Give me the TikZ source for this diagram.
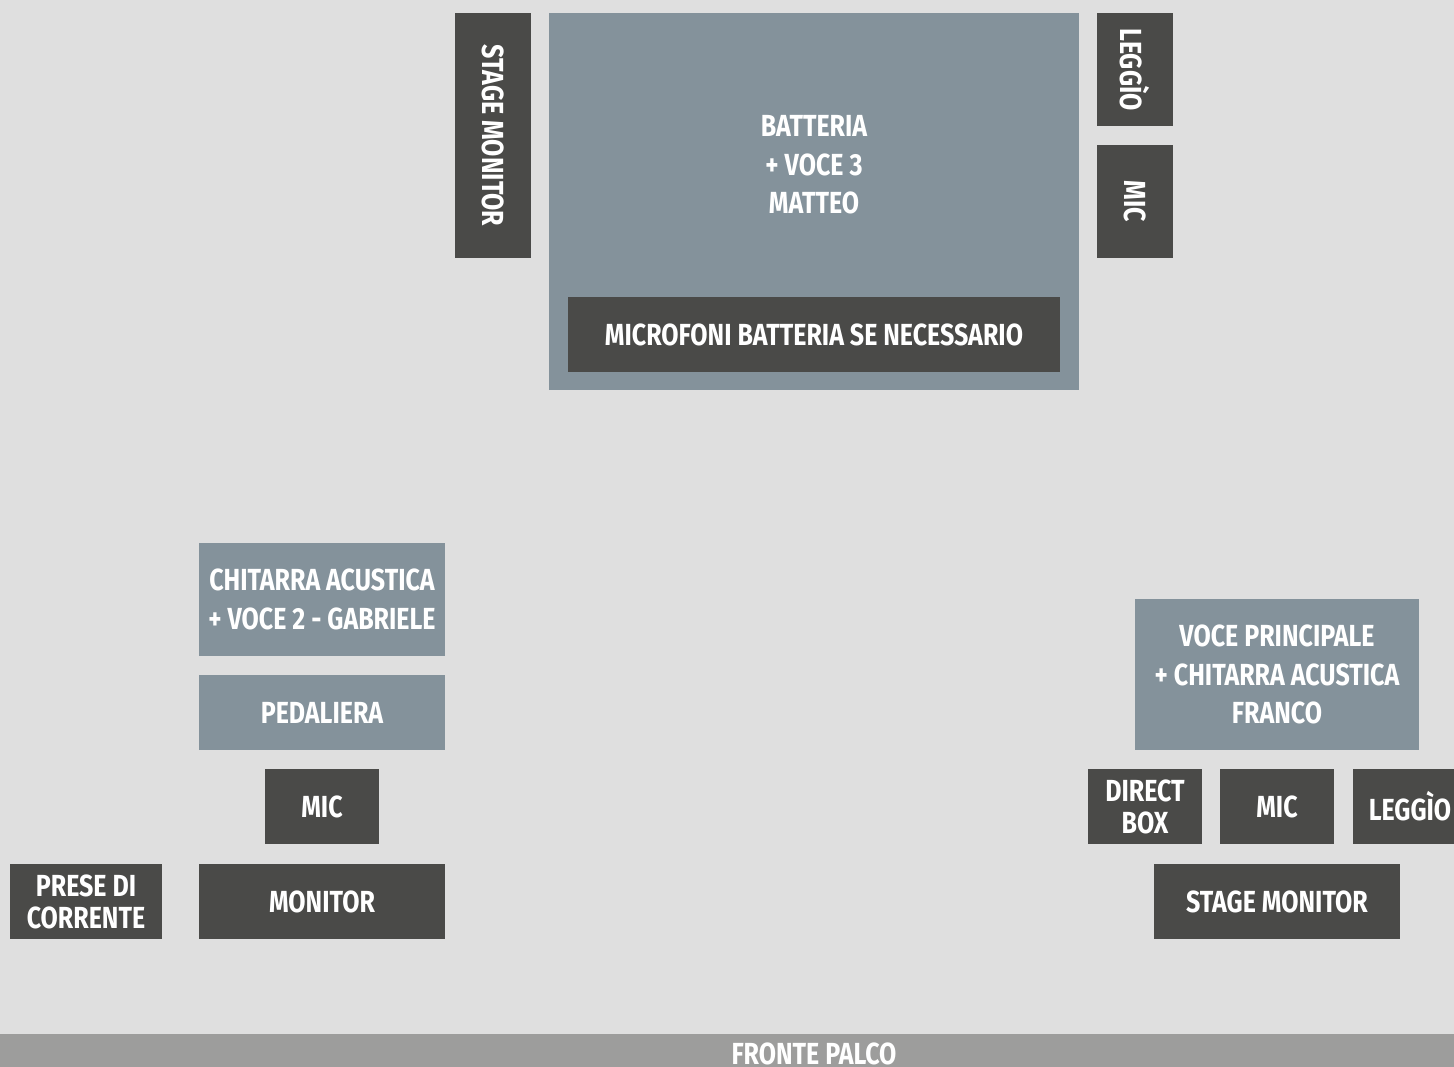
\documentclass[tikz,border=0pt]{standalone}
\usepackage{fontspec}
\newfontfamily\labfont[FakeStretch=0.82]{Fira Sans}
\definecolor{bg}{HTML}{DFDFDF}
\definecolor{darkbox}{HTML}{4A4A48}
\definecolor{lightbox}{HTML}{84929B}
\definecolor{front}{HTML}{9D9D9C}
\tikzset{
  lab/.style={text=white, align=center, inner sep=0pt,
    font=\labfont\bfseries\fontsize{30.5}{38.5}\selectfont},
  box/.style={lab, draw=none},
  darkb/.style={box, fill=darkbox},
  lightb/.style={box, fill=lightbox},
  sz/.style 2 args={minimum width=#1pt, minimum height=#2pt},
  tight/.style={font=\labfont\bfseries\fontsize{30.5}{32}\selectfont}
}
\begin{document}
\begin{tikzpicture}[x=1pt,y=-1pt]
\clip (0,0) rectangle (1454,1067);
\fill[bg] (0,0) rectangle (1454,1067);
\useasboundingbox (0,0) rectangle (1454,1067);
% drums area
\node[darkb, sz={245}{76}, rotate=-90] (sm1) at (493,135.5) {STAGE MONITOR};
\node[lightb, sz={530}{377}] (bat) at (814,201.5) {};
\node[lab] (battxt) at (814,165) {BATTERIA\\+ VOCE 3\\MATTEO};
\node[darkb, sz={492}{75}] (micbat) at (814,334.5) {MICROFONI BATTERIA SE NECESSARIO};
\node[darkb, sz={113}{76}, rotate=-90] (leg1) at (1135,69.5) {LEGGÌO};
\node[darkb, sz={113}{76}, rotate=-90] (mic1) at (1135,201.5) {MIC};
% left guitar
\node[lightb, sz={246}{113}] (chit) at (322,599.5) {CHITARRA ACUSTICA\\+ VOCE 2 - GABRIELE};
\node[lightb, sz={246}{75}] (ped) at (322,712.5) {PEDALIERA};
\node[darkb, sz={114}{75}] (mic2) at (322,806.5) {MIC};
\node[darkb, tight, sz={152}{75}] (prese) at (86,901.5) {PRESE DI\\CORRENTE};
\node[darkb, sz={246}{75}] (mon) at (322,901.5) {MONITOR};
% right lead
\node[lightb, sz={284}{151}] (voce) at (1277,674.5) {VOCE PRINCIPALE\\+ CHITARRA ACUSTICA\\FRANCO};
\node[darkb, tight, sz={114}{75}] (db) at (1145,806.5) {DIRECT\\BOX};
\node[darkb, sz={114}{75}] (mic3) at (1277,806.5) {MIC};
\node[darkb, sz={114}{75}] (leg2) at (1410,806.5) {LEGGÌO};
\node[darkb, sz={246}{75}] (sm2) at (1277,901.5) {STAGE MONITOR};
% front
\node[fill=front, inner sep=0pt, sz={1454}{40}, anchor=north west] (frontbar) at (0,1034) {};
\node[lab] (fronttxt) at (814,1054) {FRONTE PALCO};
\end{tikzpicture}
\end{document}
